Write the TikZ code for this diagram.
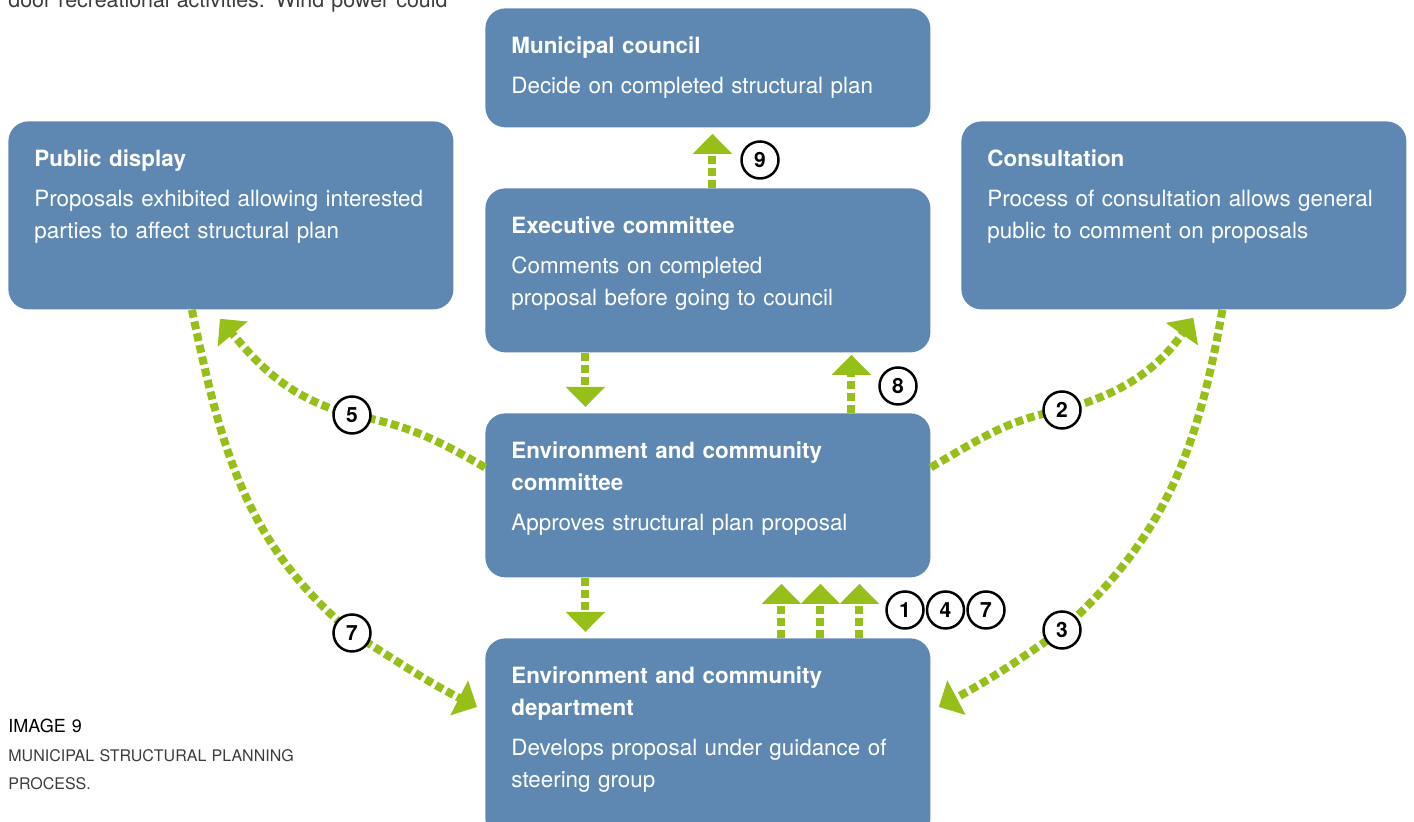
\documentclass[tikz,border=0pt]{standalone}
\usepackage{fontspec}
\setmainfont{TeX Gyre Heros}
\usetikzlibrary{arrows.meta,positioning}

\definecolor{boxblue}{RGB}{94,136,178}
\definecolor{flowgreen}{RGB}{150,192,25}
\definecolor{bodygrey}{RGB}{60,60,60}

\begin{document}
\begin{tikzpicture}
    [x=0.5pt, y=0.5pt,
    >={Triangle[width=19pt,length=10pt]},
    stage/.style={
      rectangle,
      rounded corners=10pt,
      fill=boxblue,
      minimum width=222.5pt,
      anchor=north west,
      inner sep=0pt},
    stagetext/.style={
      anchor=base west,
      inner sep=0pt,
      text width=205pt,
      align=left,
      text=white,
      font=\fontsize{11.2}{16}\selectfont},
    flow/.style={
      ->,
      color=flowgreen,
      line width=4pt,
      dash pattern=on 4pt off 2pt,
      shorten >=3pt},
    num/.style={
      circle,
      draw=black,
      fill=white,
      line width=1.25pt,
      minimum size=18.5pt,
      inner sep=0pt,
      font=\fontsize{10.5}{12}\selectfont\bfseries},
    note/.style={
      anchor=base west,
      inner sep=0pt,
      text width=200pt,
      align=left,
      text=bodygrey}
    ]
    \useasboundingbox (0,0) rectangle (1414,822);

    % stages
    \node (mc)  [stage, minimum height=59.5pt] at (485,814) {};
    \node (pd)  [stage, minimum height=94pt]   at (8,701)   {};
    \node (con) [stage, minimum height=94pt]   at (961,701) {};
    \node (exe) [stage, minimum height=82pt]   at (485,634) {};
    \node (ecc) [stage, minimum height=82pt]   at (485,409) {};
    \node (ecd) [stage, minimum height=100pt]  at (485,184) {};

    \node (mc text)  [stagetext] at ([xshift=13pt,yshift=-23pt]mc.north west)
      {\textbf{Municipal council}\\[4pt]Decide on completed structural plan};
    \node (pd text)  [stagetext] at ([xshift=13pt,yshift=-23pt]pd.north west)
      {\textbf{Public display}\\[4pt]Proposals exhibited allowing interested\\parties to affect structural plan};
    \node (con text) [stagetext] at ([xshift=13pt,yshift=-23pt]con.north west)
      {\textbf{Consultation}\\[4pt]Process of consultation allows general\\public to comment on proposals};
    \node (exe text) [stagetext] at ([xshift=13pt,yshift=-23pt]exe.north west)
      {\textbf{Executive committee}\\[4pt]Comments on completed\\proposal before going to council};
    \node (ecc text) [stagetext] at ([xshift=13pt,yshift=-23pt]ecc.north west)
      {\textbf{Environment and community}\\\textbf{committee}\\[4pt]Approves structural plan proposal};
    \node (ecd text) [stagetext] at ([xshift=13pt,yshift=-23pt]ecd.north west)
      {\textbf{Environment and community}\\\textbf{department}\\[4pt]Develops proposal under guidance of\\steering group};

    % where the numbers sit
    \coordinate (c9) at (760,662);
    \coordinate (c8) at (898,436);
    \coordinate (c1) at (905,212);
    \coordinate (c5) at (352,407);
    \coordinate (c7) at (352,189);
    \coordinate (c2) at (1062,412);
    \coordinate (c3) at (1062,192);

    % straight steps
    \path[flow]
      ([xshift=2.25pt]exe.north)   edge ([xshift=2.25pt]mc.south)
      ([xshift=-61.25pt]exe.south) edge ([xshift=-61.25pt]ecc.north)
      ([xshift=71.75pt]ecc.north)  edge[shorten >=1pt] ([xshift=71.75pt]exe.south)
      ([xshift=-61.25pt]ecc.south) edge ([xshift=-61.25pt]ecd.north)
      ([xshift=36.75pt]ecd.north)  edge ([xshift=36.75pt]ecc.south)
      ([xshift=56.25pt]ecd.north)  edge ([xshift=56.25pt]ecc.south)
      ([xshift=75.75pt]ecd.north)  edge ([xshift=75.75pt]ecc.south);

    % curved steps
    \draw[flow, shorten >=0pt] ([yshift=14pt]ecc.west) to[out=150,in=-10] (c5)
      to[out=165,in=-50] ([xshift=-5.5pt,yshift=-4.5pt]pd.south);
    \draw[flow, shorten >=0pt] ([xshift=-19.5pt]pd.south) to[out=-78,in=140] (c7)
      to[out=-32,in=153] ([xshift=-4pt,yshift=-34.5pt]ecd.north west);
    \draw[flow, shorten >=0pt] ([yshift=14pt]ecc.east) to[out=30,in=190] (c2)
      to[out=15,in=-125] ([xshift=4.75pt,yshift=-4pt]con.south);
    \draw[flow, shorten >=0pt] ([xshift=19.25pt]con.south) to[out=-100,in=42] (c3)
      to[out=-145,in=28] ([xshift=4pt,yshift=-34.5pt]ecd.north east);

    % numbers
    \node (n9) [num] at (c9) {9};
    \node (n8) [num] at (c8) {8};
    \node (n5) [num] at (c5) {5};
    \node (n7 left) [num] at (c7) {7};
    \node (n2) [num] at (c2) {2};
    \node (n3) [num] at (c3) {3};
    \node (n1) [num] at (c1) {1};
    \node (n4) [num, right=0.5pt of n1] {4};
    \node (n7) [num, right=0.5pt of n4] {7};

    % surrounding text
    \node (prev) [note, text width=240pt, font=\fontsize{10.7}{14}\selectfont] at (8,814)
      {door recreational activities. Wind power could};
    \node (cap title) [note, text=black, font=\fontsize{9}{14}\selectfont] at (8,89) {IMAGE 9};
    \node (cap text) [note, font=\fontsize{8}{14}\selectfont] at (8,60)
      {MUNICIPAL STRUCTURAL PLANNING\\PROCESS.};
\end{tikzpicture}
\end{document}
